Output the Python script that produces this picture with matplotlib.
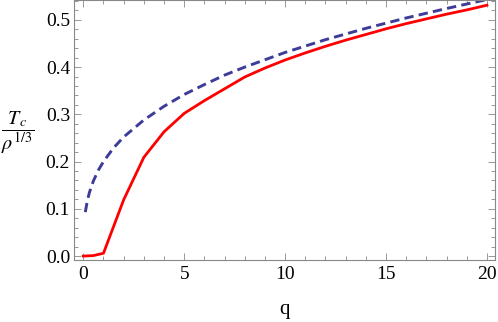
import matplotlib
matplotlib.use("Agg")
import matplotlib.pyplot as plt
from matplotlib.ticker import MultipleLocator

plt.rcParams['font.family'] = ['Liberation Serif', 'DejaVu Serif']
plt.rcParams['mathtext.fontset'] = 'stix'

# red solid curve
q_red = [0, 0.5, 1, 2, 3, 4, 5, 6, 7, 8, 9, 10, 11, 12, 13, 14, 15, 16, 17, 18, 19, 20]
t_red = [0.0, 0.001, 0.006, 0.119, 0.209, 0.263, 0.302, 0.329, 0.354, 0.379, 0.398,
         0.415, 0.430, 0.444, 0.457, 0.469, 0.481, 0.492, 0.502, 0.512, 0.521, 0.531]

# blue dashed curve
q_blue = [0.1, 0.2, 0.3, 0.5, 0.75, 1, 1.5, 2, 3, 4, 5, 6, 7, 8, 10, 12, 14, 16, 18, 20]
t_blue = [0.093, 0.117, 0.134, 0.159, 0.182, 0.200, 0.229, 0.252, 0.288, 0.317,
          0.342, 0.363, 0.383, 0.400, 0.431, 0.458, 0.482, 0.504, 0.524, 0.543]

fig = plt.figure(figsize=(4.98, 3.22), dpi=100)
ax = fig.add_axes([0.149, 0.193, 0.845, 0.807])

ax.plot(q_blue, t_blue, color='#3d3d99', lw=2.1, dashes=(3.2, 1.8))
ax.plot(q_red, t_red, color='red', lw=2.0)

ax.set_xlim(-0.45, 20.4)
ax.set_ylim(-0.008, 0.542)

ax.xaxis.set_major_locator(MultipleLocator(5))
ax.xaxis.set_minor_locator(MultipleLocator(1))
ax.yaxis.set_major_locator(MultipleLocator(0.1))
ax.yaxis.set_minor_locator(MultipleLocator(0.02))
ax.yaxis.set_major_formatter(plt.FuncFormatter(lambda v, p: f"{v:.1f}"))

ax.tick_params(which='both', direction='in', top=True, right=True,
               color='#888888', labelsize=14, width=0.6)
ax.tick_params(which='major', length=5)
ax.tick_params(which='minor', length=2.8)
ax.tick_params(axis='x', pad=4.5)
ax.tick_params(axis='y', pad=3.0)
for s in ax.spines.values():
    s.set_color('#888888')
    s.set_linewidth(0.8)

ax.set_xlabel('q', fontsize=15, labelpad=12)
ax.set_ylabel(r'$\dfrac{T_c}{\rho^{1/3}}$', fontsize=14.5, rotation=0,
              va='center', ha='center')
ax.yaxis.set_label_coords(-0.135, 0.49)

fig.savefig('out.png', dpi=100)
